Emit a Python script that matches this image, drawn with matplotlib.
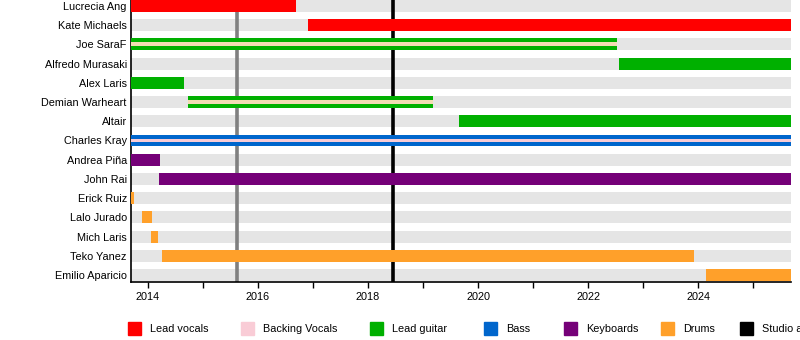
import matplotlib
matplotlib.use("Agg")
import matplotlib.pyplot as plt
from matplotlib.patches import Rectangle

plt.rcParams['font.family'] = ['Liberation Sans', 'DejaVu Sans']

# members top to bottom
members = ['Lucrecia Ang', 'Kate Michaels', 'Joe SaraF', 'Alfredo Murasaki',
           'Alex Laris', 'Demian Warheart', 'Altair', 'Charles Kray',
           'Andrea Piña', 'John Rai', 'Erick Ruiz', 'Lalo Jurado',
           'Mich Laris', 'Teko Yanez', 'Emilio Aparicio']

start_year = 2013.69
end_year = 2025.69

# main role spans: (member index, start, end, role)
spans = [
    (0, 2013.69, 2016.69, 'vocals'),
    (1, 2016.91, 2025.69, 'vocals'),
    (2, 2013.69, 2022.53, 'guitar'),
    (3, 2022.56, 2025.69, 'guitar'),
    (4, 2013.69, 2014.65, 'guitar'),
    (5, 2014.73, 2019.18, 'guitar'),
    (6, 2019.65, 2025.69, 'guitar'),
    (7, 2013.69, 2025.69, 'bass'),
    (8, 2013.69, 2014.22, 'keys'),
    (9, 2014.20, 2025.69, 'keys'),
    (10, 2013.69, 2013.75, 'drums'),
    (11, 2013.89, 2014.07, 'drums'),
    (12, 2014.05, 2014.18, 'drums'),
    (13, 2014.25, 2023.93, 'drums'),
    (14, 2024.15, 2025.69, 'drums'),
]

# secondary roles drawn as thin stripe inside the main bar
stripes = [
    (2, 2013.69, 2022.53, 'rhythm'),
    (5, 2014.73, 2019.18, 'rhythm'),
    (7, 2013.69, 2025.69, 'backing'),
]

ep_releases = [2015.62]
album_releases = [2018.45]

colors = {
    'vocals': '#ff0000',
    'backing': '#f9ccd6',
    'guitar': '#00b000',
    'rhythm': '#f2dcb4',
    'bass': '#0066cc',
    'keys': '#750078',
    'drums': '#ffa02a',
}

legend_labels = ['Lead vocals', 'Backing Vocals', 'Lead guitar', 'Bass',
                 'Keyboards', 'Drums', 'Studio albums']
legend_colors = ['#ff0000', '#f9ccd6', '#00b000', '#0066cc', '#750078',
                 '#ffa02a', '#000000']
legend_x = [128, 241, 370, 484, 564, 661, 740]

W, H = 800, 340
fig = plt.figure(figsize=(W / 100, H / 100), dpi=100)
ax = fig.add_axes([131 / W, 1 - 282 / H, 660 / W, 282 / H])

bar_h = 0.62
n = len(members)
for i in range(n):
    ax.barh(i, end_year - start_year, left=start_year, height=bar_h,
            color='#e5e5e5', zorder=1)

for x in ep_releases:
    ax.axvline(x, color='#808080', lw=2.6, zorder=2)
for x in album_releases:
    ax.axvline(x, color='#000000', lw=2.6, zorder=2)

for i, s, e, role in spans:
    ax.barh(i, e - s, left=s, height=bar_h, color=colors[role], zorder=3)
for i, s, e, role in stripes:
    ax.barh(i, e - s, left=s, height=bar_h / 3, color=colors[role], zorder=4)

ax.set_xlim(start_year, end_year)
ax.set_ylim(n - 1 + 0.365, -0.3125)
ax.set_yticks(range(n))
ax.set_yticklabels(members, fontsize=7.8)
ax.tick_params(axis='y', length=0, pad=3)

ax.set_xticks(range(2014, 2026, 2))
ax.set_xticks(range(2015, 2026, 2), minor=True)
ax.tick_params(axis='x', which='both', length=4, width=1, direction='out',
               labelsize=7.8, pad=3.5)

for side in ['top', 'right']:
    ax.spines[side].set_visible(False)
ax.spines['left'].set_linewidth(1.2)
ax.spines['bottom'].set_linewidth(1.2)

# legend row along the bottom
for lab, col, x in zip(legend_labels, legend_colors, legend_x):
    fig.patches.append(Rectangle((x / W, 1 - 335 / H), 13 / W, 13 / H,
                                 transform=fig.transFigure, color=col,
                                 figure=fig))
    fig.text((x + 22) / W, 1 - 329 / H, lab, fontsize=7.8, va='center',
             ha='left')

fig.savefig('out.png', dpi=100)
